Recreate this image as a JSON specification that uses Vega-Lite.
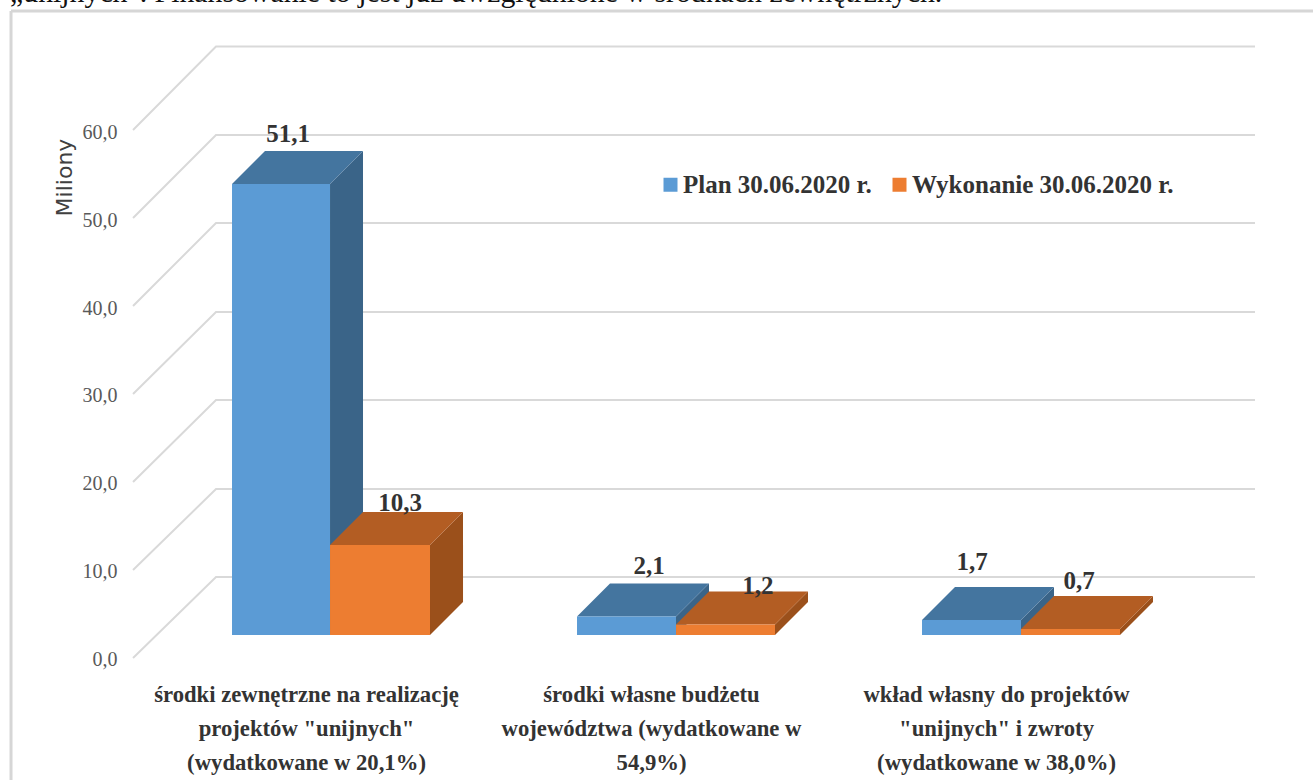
{
"$schema":"https://vega.github.io/schema/vega-lite/v6.json",
"width":1313,"height":780,"padding":0,"autosize":{"type":"none"},"background":"#ffffff",
"config":{"view":{"stroke":null}},
"datasets":{
"frame":[{"x":0.1449,"x2":0.1449,"y":-13.864,"y2":73.52},{"x":0.1449,"x2":3.9188,"y":73.52,"y2":73.52}],
"note":[{"x":0.142,"y":74.5,"note":"„unijnych\". Finansowanie to jest już uwzględnione w środkach zewnętrznych."}],
"grid":[
{"tick":0,"x":0.4986,"y":0},{"tick":0,"x":0.7391,"y":9.2},{"tick":0,"x":3.7507,"y":9.2},
{"tick":10,"x":0.4986,"y":10},{"tick":10,"x":0.7391,"y":19.2},{"tick":10,"x":3.7507,"y":19.2},
{"tick":20,"x":0.4986,"y":20},{"tick":20,"x":0.7391,"y":29.32},{"tick":20,"x":3.7507,"y":29.32},
{"tick":30,"x":0.4986,"y":30},{"tick":30,"x":0.7391,"y":39.32},{"tick":30,"x":3.7507,"y":39.32},
{"tick":40,"x":0.4986,"y":40},{"tick":40,"x":0.7391,"y":49.43},{"tick":40,"x":3.7507,"y":49.43},
{"tick":50,"x":0.4986,"y":50},{"tick":50,"x":0.7391,"y":59.43},{"tick":50,"x":3.7507,"y":59.43},
{"tick":60,"x":0.4986,"y":60},{"tick":60,"x":0.7391,"y":69.49},{"tick":60,"x":3.7507,"y":69.49}],
"side":[
{"bar":"1P","series":"Plan 30.06.2020 r.","x":1.0696,"low":2.61,"high":53.86},{"bar":"1P","series":"Plan 30.06.2020 r.","x":1.1652,"low":6.36,"high":57.61},
{"bar":"1W","series":"Wykonanie 30.06.2020 r.","x":1.3594,"low":2.61,"high":12.84},{"bar":"1W","series":"Wykonanie 30.06.2020 r.","x":1.4551,"low":6.36,"high":16.59},
{"bar":"2P","series":"Plan 30.06.2020 r.","x":2.0725,"low":2.61,"high":4.72},{"bar":"2P","series":"Plan 30.06.2020 r.","x":2.1681,"low":6.36,"high":8.47},
{"bar":"2W","series":"Wykonanie 30.06.2020 r.","x":2.3594,"low":2.61,"high":3.82},{"bar":"2W","series":"Wykonanie 30.06.2020 r.","x":2.4551,"low":6.36,"high":7.57},
{"bar":"3P","series":"Plan 30.06.2020 r.","x":3.0725,"low":2.61,"high":4.32},{"bar":"3P","series":"Plan 30.06.2020 r.","x":3.1681,"low":6.36,"high":8.07},
{"bar":"3W","series":"Wykonanie 30.06.2020 r.","x":3.3594,"low":2.61,"high":3.3},{"bar":"3W","series":"Wykonanie 30.06.2020 r.","x":3.4551,"low":6.36,"high":7.05}],
"top":[
{"bar":"1P","series":"Plan 30.06.2020 r.","y":53.86,"x0":0.7855,"x1":1.0696},{"bar":"1P","series":"Plan 30.06.2020 r.","y":57.61,"x0":0.8812,"x1":1.1652},
{"bar":"1W","series":"Wykonanie 30.06.2020 r.","y":12.84,"x0":1.0696,"x1":1.3594},{"bar":"1W","series":"Wykonanie 30.06.2020 r.","y":16.59,"x0":1.1652,"x1":1.4551},
{"bar":"2P","series":"Plan 30.06.2020 r.","y":4.72,"x0":1.7855,"x1":2.0725},{"bar":"2P","series":"Plan 30.06.2020 r.","y":8.47,"x0":1.8812,"x1":2.1681},
{"bar":"2W","series":"Wykonanie 30.06.2020 r.","y":3.82,"x0":2.0725,"x1":2.3594},{"bar":"2W","series":"Wykonanie 30.06.2020 r.","y":7.57,"x0":2.1681,"x1":2.4551},
{"bar":"3P","series":"Plan 30.06.2020 r.","y":4.32,"x0":2.7855,"x1":3.0725},{"bar":"3P","series":"Plan 30.06.2020 r.","y":8.07,"x0":2.8812,"x1":3.1681},
{"bar":"3W","series":"Wykonanie 30.06.2020 r.","y":3.3,"x0":3.0725,"x1":3.3594},{"bar":"3W","series":"Wykonanie 30.06.2020 r.","y":7.05,"x0":3.1681,"x1":3.4551}],
"bars":[
{"category":1,"series":"Plan 30.06.2020 r.","value":51.1,"label":"51,1","x0":0.7855,"x1":1.0696,"base":2.61,"top":53.86,"lx":0.9478,"ly":59.55},
{"category":1,"series":"Wykonanie 30.06.2020 r.","value":10.3,"label":"10,3","x0":1.0696,"x1":1.3594,"base":2.61,"top":12.84,"lx":1.2725,"ly":17.61},
{"category":2,"series":"Plan 30.06.2020 r.","value":2.1,"label":"2,1","x0":1.7855,"x1":2.0725,"base":2.61,"top":4.72,"lx":1.9942,"ly":10.45},
{"category":2,"series":"Wykonanie 30.06.2020 r.","value":1.2,"label":"1,2","x0":2.0725,"x1":2.3594,"base":2.61,"top":3.82,"lx":2.3101,"ly":8.18},
{"category":3,"series":"Plan 30.06.2020 r.","value":1.7,"label":"1,7","x0":2.7855,"x1":3.0725,"base":2.61,"top":4.32,"lx":2.9304,"ly":10.91},
{"category":3,"series":"Wykonanie 30.06.2020 r.","value":0.7,"label":"0,7","x0":3.0725,"x1":3.3594,"base":2.61,"top":3.3,"lx":3.2406,"ly":8.75}]
},
"layer":[
{"data":{"name":"frame"},"mark":{"type":"rule","color":"#d6d6d6","strokeWidth":3},
"encoding":{
"x":{"field":"x","type":"quantitative","scale":{"domain":[0.113,3.9188],"nice":false,"zero":false},"title":null,
 "axis":{"orient":"bottom","offset":-97,"values":[1,2,3],"domain":false,"ticks":false,"grid":false,"labelPadding":0,"labelBaseline":"top","labelLimit":500,
 "labelFont":"Liberation Serif","labelFontWeight":"bold","labelFontSize":22.7,"labelColor":"#333333","labelLineHeight":34,"labelOverlap":false,"labelBound":false,"labelFlush":false,
 "labelExpr":"datum.value==1?['środki zewnętrzne na realizację','projektów \"unijnych\"','(wydatkowane w 20,1%)']:datum.value==2?['środki własne budżetu','województwa (wydatkowane w','54,9%)']:['wkład własny do projektów','\"unijnych\"  i zwroty','(wydatkowane w 38,0%)']"}},
"x2":{"field":"x2"},
"y":{"field":"y","type":"quantitative","scale":{"domain":[-13.864,74.773],"nice":false,"zero":false},"title":"Miliony",
 "axis":{"orient":"left","offset":-117,"values":[0,10,20,30,40,50,60],"domain":false,"ticks":false,"grid":false,"labelPadding":0,"labelOffset":2,
 "labelFont":"Liberation Sans Narrow","labelFontSize":20,"labelColor":"#595959","labelExpr":"replace(format(datum.value,'.1f'),'.',',')",
 "titleFont":"DejaVu Sans","titleFontSize":22,"titleFontWeight":"normal","titleColor":"#404040","titleX":-41,"titleY":177,"titleAngle":270,"titleAlign":"center"}},
"y2":{"field":"y2"}}},
{"data":{"name":"note"},"mark":{"type":"text","align":"left","baseline":"alphabetic","font":"Liberation Serif","fontSize":29.8,"color":"#111111"},
"encoding":{"x":{"field":"x","type":"quantitative","scale":{"domain":[0.113,3.9188],"nice":false,"zero":false}},
"y":{"field":"y","type":"quantitative","scale":{"domain":[-13.864,74.773],"nice":false,"zero":false}},
"text":{"field":"note"}}},
{"data":{"name":"grid"},"mark":{"type":"line","color":"#d9d9d9","strokeWidth":2,"interpolate":"linear"},
"encoding":{"x":{"field":"x","type":"quantitative","scale":{"domain":[0.113,3.9188],"nice":false,"zero":false}},
"y":{"field":"y","type":"quantitative","scale":{"domain":[-13.864,74.773],"nice":false,"zero":false}},
"detail":{"field":"tick"}}},
{"data":{"name":"side"},"mark":{"type":"area","interpolate":"linear"},
"encoding":{"x":{"field":"x","type":"quantitative","scale":{"domain":[0.113,3.9188],"nice":false,"zero":false}},
"y":{"field":"high","type":"quantitative","scale":{"domain":[-13.864,74.773],"nice":false,"zero":false}},
"y2":{"field":"low"},"detail":{"field":"bar"},
"color":{"field":"series","type":"nominal","scale":{"domain":["Plan 30.06.2020 r.","Wykonanie 30.06.2020 r."],"range":["#3a6488","#9b501b"]},"legend":null},
"opacity":{"value":1}}},
{"data":{"name":"top"},"mark":{"type":"area","orient":"horizontal","interpolate":"linear"},
"encoding":{"y":{"field":"y","type":"quantitative","scale":{"domain":[-13.864,74.773],"nice":false,"zero":false}},
"x":{"field":"x0","type":"quantitative","scale":{"domain":[0.113,3.9188],"nice":false,"zero":false}},
"x2":{"field":"x1"},"detail":{"field":"bar"},
"color":{"field":"series","type":"nominal","scale":{"domain":["Plan 30.06.2020 r.","Wykonanie 30.06.2020 r."],"range":["#44759f","#b35d23"]},"legend":null},
"opacity":{"value":1}}},
{"data":{"name":"bars"},"mark":{"type":"rect"},
"encoding":{"x":{"field":"x0","type":"quantitative","scale":{"domain":[0.113,3.9188],"nice":false,"zero":false}},
"x2":{"field":"x1"},
"y":{"field":"top","type":"quantitative","scale":{"domain":[-13.864,74.773],"nice":false,"zero":false}},
"y2":{"field":"base"},
"color":{"field":"series","type":"nominal","scale":{"domain":["Plan 30.06.2020 r.","Wykonanie 30.06.2020 r."],"range":["#5b9bd5","#ed7d31"]},
 "legend":{"title":null,"orient":"none","legendX":658,"legendY":172,"direction":"horizontal","columns":2,"symbolType":"square","symbolSize":196,"symbolStrokeWidth":0,"symbolOpacity":1,"labelFont":"Liberation Serif","labelFontWeight":"bold","labelFontSize":25,"labelColor":"#333333","labelOffset":0,"columnPadding":15,"labelLimit":400,"padding":0}}}},
{"data":{"name":"bars"},"mark":{"type":"text","font":"Liberation Serif","fontWeight":"bold","fontSize":25,"color":"#333333","baseline":"middle"},
"encoding":{"x":{"field":"lx","type":"quantitative","scale":{"domain":[0.113,3.9188],"nice":false,"zero":false}},
"y":{"field":"ly","type":"quantitative","scale":{"domain":[-13.864,74.773],"nice":false,"zero":false}},
"text":{"field":"label"}}}
],
"resolve":{"scale":{"color":"independent"}}
}
